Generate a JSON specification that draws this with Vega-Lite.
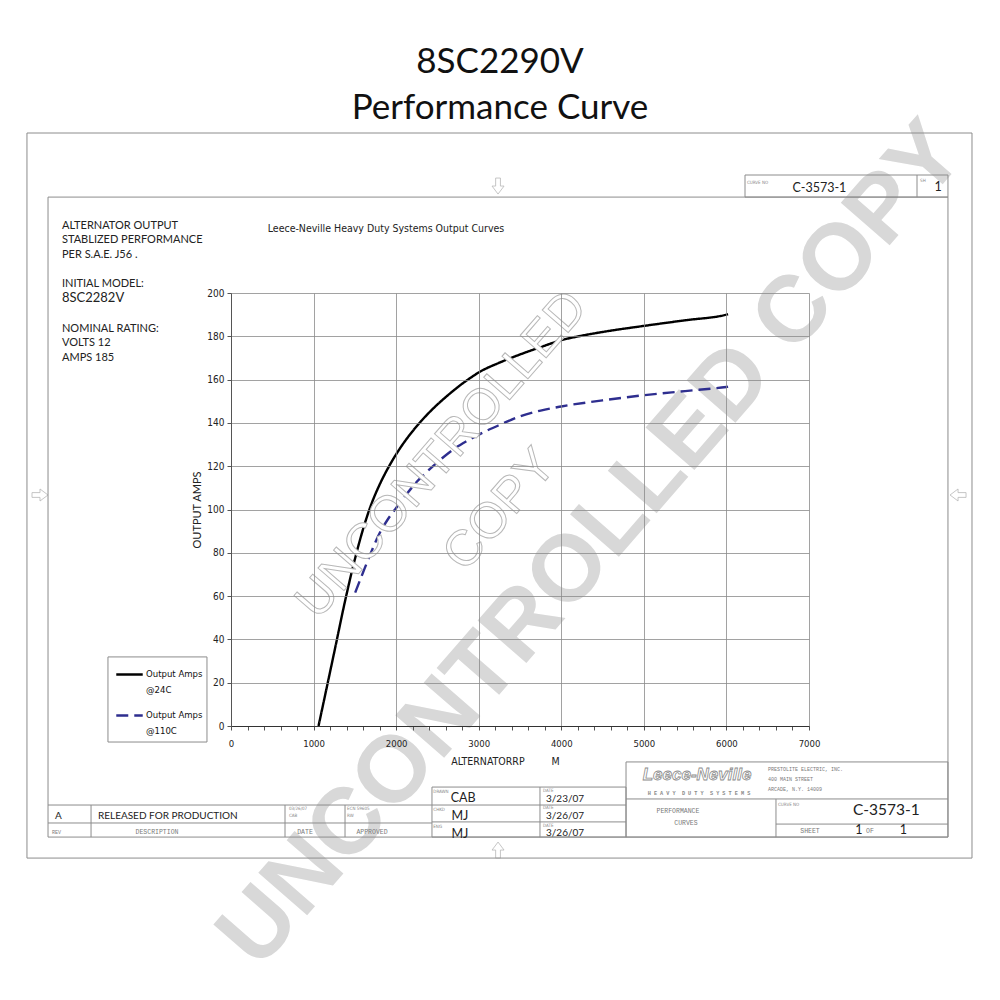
{
  "$schema": "https://vega.github.io/schema/vega-lite/v6.json",
  "width": 578,
  "height": 433,
  "autosize": {"type": "none"},
  "padding": {"left": 231, "top": 293, "right": 191, "bottom": 274},
  "background": "white",
  "config": {"view": {"stroke": null}},
  "datasets": {
    "perf": [
      {"rpm": 1060, "amps": 0, "series": "Output Amps @24C"},
      {"rpm": 1250, "amps": 34, "series": "Output Amps @24C"},
      {"rpm": 1383, "amps": 58, "series": "Output Amps @24C"},
      {"rpm": 1500, "amps": 77, "series": "Output Amps @24C"},
      {"rpm": 1600, "amps": 91, "series": "Output Amps @24C"},
      {"rpm": 1700, "amps": 102.5, "series": "Output Amps @24C"},
      {"rpm": 1800, "amps": 111.5, "series": "Output Amps @24C"},
      {"rpm": 1900, "amps": 119, "series": "Output Amps @24C"},
      {"rpm": 2000, "amps": 125.5, "series": "Output Amps @24C"},
      {"rpm": 2100, "amps": 131.2, "series": "Output Amps @24C"},
      {"rpm": 2200, "amps": 136.2, "series": "Output Amps @24C"},
      {"rpm": 2300, "amps": 140.7, "series": "Output Amps @24C"},
      {"rpm": 2400, "amps": 144.8, "series": "Output Amps @24C"},
      {"rpm": 2500, "amps": 148.5, "series": "Output Amps @24C"},
      {"rpm": 2600, "amps": 151.9, "series": "Output Amps @24C"},
      {"rpm": 2700, "amps": 155.1, "series": "Output Amps @24C"},
      {"rpm": 2800, "amps": 158.1, "series": "Output Amps @24C"},
      {"rpm": 2900, "amps": 160.8, "series": "Output Amps @24C"},
      {"rpm": 3000, "amps": 163.3, "series": "Output Amps @24C"},
      {"rpm": 3250, "amps": 167.8, "series": "Output Amps @24C"},
      {"rpm": 3500, "amps": 171.6, "series": "Output Amps @24C"},
      {"rpm": 3750, "amps": 175, "series": "Output Amps @24C"},
      {"rpm": 4000, "amps": 178.2, "series": "Output Amps @24C"},
      {"rpm": 4250, "amps": 180.3, "series": "Output Amps @24C"},
      {"rpm": 4500, "amps": 182, "series": "Output Amps @24C"},
      {"rpm": 5000, "amps": 184.8, "series": "Output Amps @24C"},
      {"rpm": 5500, "amps": 187.4, "series": "Output Amps @24C"},
      {"rpm": 6000, "amps": 190, "series": "Output Amps @24C"},
      {"rpm": 6020, "amps": 190.2, "series": "Output Amps @24C"},
      {"rpm": 1504, "amps": 61.6, "series": "Output Amps @110C"},
      {"rpm": 1600, "amps": 71, "series": "Output Amps @110C"},
      {"rpm": 1700, "amps": 80.5, "series": "Output Amps @110C"},
      {"rpm": 1786, "amps": 88, "series": "Output Amps @110C"},
      {"rpm": 1900, "amps": 95.5, "series": "Output Amps @110C"},
      {"rpm": 2000, "amps": 100.7, "series": "Output Amps @110C"},
      {"rpm": 2125, "amps": 107, "series": "Output Amps @110C"},
      {"rpm": 2250, "amps": 112.8, "series": "Output Amps @110C"},
      {"rpm": 2400, "amps": 118.4, "series": "Output Amps @110C"},
      {"rpm": 2550, "amps": 123.5, "series": "Output Amps @110C"},
      {"rpm": 2713, "amps": 128.3, "series": "Output Amps @110C"},
      {"rpm": 2850, "amps": 131.5, "series": "Output Amps @110C"},
      {"rpm": 2975, "amps": 134.1, "series": "Output Amps @110C"},
      {"rpm": 3250, "amps": 139, "series": "Output Amps @110C"},
      {"rpm": 3500, "amps": 143, "series": "Output Amps @110C"},
      {"rpm": 3750, "amps": 145.7, "series": "Output Amps @110C"},
      {"rpm": 4000, "amps": 147.6, "series": "Output Amps @110C"},
      {"rpm": 4500, "amps": 150.4, "series": "Output Amps @110C"},
      {"rpm": 5000, "amps": 152.8, "series": "Output Amps @110C"},
      {"rpm": 5500, "amps": 154.7, "series": "Output Amps @110C"},
      {"rpm": 6000, "amps": 156.6, "series": "Output Amps @110C"},
      {"rpm": 6020, "amps": 156.7, "series": "Output Amps @110C"}
    ],
    "boxes": [
      {"rpm": -2471, "rpm2": 8974, "amps": 273.9, "amps2": -61.0},
      {"rpm": -2216, "rpm2": 8683, "amps": 244.3, "amps2": -51.3},
      {"rpm": 6225, "rpm2": 8683, "amps": 254.5, "amps2": 244.3},
      {"rpm": 4784, "rpm2": 8683, "amps": -16.6, "amps2": -51.3},
      {"rpm": 2434, "rpm2": 4784, "amps": -28.2, "amps2": -51.3},
      {"rpm": -1490, "rpm2": -291, "amps": 31.9, "amps2": -7.4}
    ],
    "lines": [
      {"rpm": 8308, "amps": 254.5, "rpm2": 8308, "amps2": 244.3},
      {"rpm": 4784, "amps": -33.7, "rpm2": 8683, "amps2": -33.7},
      {"rpm": 6600, "amps": -33.7, "rpm2": 6600, "amps2": -51.3},
      {"rpm": 6600, "amps": -45.3, "rpm2": 8683, "amps2": -45.3},
      {"rpm": 2434, "amps": -36.5, "rpm2": 4784, "amps2": -36.5},
      {"rpm": 2434, "amps": -44.3, "rpm2": 4784, "amps2": -44.3},
      {"rpm": 3742, "amps": -28.2, "rpm2": 3742, "amps2": -51.3},
      {"rpm": -2216, "amps": -36.5, "rpm2": 2434, "amps2": -36.5},
      {"rpm": -2216, "amps": -44.8, "rpm2": 2434, "amps2": -44.8},
      {"rpm": -1695, "amps": -36.5, "rpm2": -1695, "amps2": -51.3},
      {"rpm": 654, "amps": -36.5, "rpm2": 654, "amps2": -51.3},
      {"rpm": 1381, "amps": -36.5, "rpm2": 1381, "amps2": -51.3}
    ],
    "watermark": [
      {"rpm": 4372, "amps": 83.6, "text": "UNCONTROLLED COPY", "kind": "solid"},
      {"rpm": 2555, "amps": 125.2, "text": "UNCONTROLLED", "kind": "outline"},
      {"rpm": 3258, "amps": 99.8, "text": "COPY", "kind": "outline"}
    ],
    "arrows": [
      {"rpm": 3234, "amps": 249.4, "dir": "down"},
      {"rpm": 3234, "amps": -57.3, "dir": "up"},
      {"rpm": -2313, "amps": 106.7, "dir": "right"},
      {"rpm": 8805, "amps": 106.7, "dir": "left"}
    ],
    "texts": [
      {"rpm": 3258, "amps": 306.7, "text": "8SC2290V", "g": "head"},
      {"rpm": 3258, "amps": 285.6, "text": "Performance Curve", "g": "head"},
      {"rpm": -2047, "amps": 230.9, "text": "ALTERNATOR OUTPUT", "g": "note"},
      {"rpm": -2047, "amps": 224.5, "text": "STABLIZED PERFORMANCE", "g": "note"},
      {"rpm": -2047, "amps": 217.6, "text": "PER S.A.E. J56 .", "g": "note"},
      {"rpm": -2047, "amps": 204.2, "text": "INITIAL MODEL:", "g": "note"},
      {"rpm": -2047, "amps": 197.7, "text": "8SC2282V", "g": "model"},
      {"rpm": -2047, "amps": 183.4, "text": "NOMINAL RATING:", "g": "note"},
      {"rpm": -2047, "amps": 176.9, "text": "VOLTS 12", "g": "note"},
      {"rpm": -2047, "amps": 170.0, "text": "AMPS 185", "g": "note"},
      {"rpm": 1877, "amps": 229.6, "text": "Leece-Neville Heavy Duty Systems Output Curves", "g": "sub"},
      {"rpm": 6249, "amps": 251.0, "text": "CURVE NO", "g": "tiny"},
      {"rpm": 8345, "amps": 251.7, "text": "SH", "g": "tiny"},
      {"rpm": 2450, "amps": -30.5, "text": "DRAWN", "g": "tiny"},
      {"rpm": 3779, "amps": -30.0, "text": "DATE", "g": "tiny"},
      {"rpm": 2450, "amps": -38.8, "text": "CHKD", "g": "tiny"},
      {"rpm": 3779, "amps": -38.0, "text": "DATE", "g": "tiny"},
      {"rpm": 2450, "amps": -46.7, "text": "ENG", "g": "tiny"},
      {"rpm": 3779, "amps": -46.0, "text": "DATE", "g": "tiny"},
      {"rpm": 702, "amps": -38.2, "text": "03/26/07", "g": "tiny"},
      {"rpm": 702, "amps": -41.6, "text": "CAB", "g": "tiny"},
      {"rpm": 1405, "amps": -38.2, "text": "ECN 59605", "g": "tiny"},
      {"rpm": 1405, "amps": -41.6, "text": "RW", "g": "tiny"},
      {"rpm": 6625, "amps": -36.3, "text": "CURVE NO", "g": "tiny"},
      {"rpm": -2168, "amps": -49.0, "text": "REV", "g": "monoL"},
      {"rpm": -896, "amps": -49.0, "text": "DESCRIPTION", "g": "mono"},
      {"rpm": 896, "amps": -49.0, "text": "DATE", "g": "mono"},
      {"rpm": 1708, "amps": -49.0, "text": "APPROVED", "g": "mono"},
      {"rpm": 5413, "amps": -39.3, "text": "PERFORMANCE", "g": "mono"},
      {"rpm": 5510, "amps": -44.6, "text": "CURVES", "g": "mono"},
      {"rpm": 7012, "amps": -48.5, "text": "SHEET", "g": "mono"},
      {"rpm": 7739, "amps": -48.5, "text": "OF", "g": "mono"},
      {"rpm": 6503, "amps": -19.9, "text": "PRESTOLITE ELECTRIC, INC.", "g": "monoL"},
      {"rpm": 6503, "amps": -24.5, "text": "400 MAIN STREET", "g": "monoL"},
      {"rpm": 6503, "amps": -29.1, "text": "ARCADE, N.Y. 14009", "g": "monoL"},
      {"rpm": 5668, "amps": -30.9, "text": "H E A V Y \u00a0D U T Y \u00a0S Y S T E M S", "g": "heavy"},
      {"rpm": -2132, "amps": -41.6, "text": "A", "g": "mid"},
      {"rpm": -1611, "amps": -41.6, "text": "RELEASED FOR PRODUCTION", "g": "mid"},
      {"rpm": 2660, "amps": -33.3, "text": "CAB", "g": "big"},
      {"rpm": 2670, "amps": -41.6, "text": "MJ", "g": "big"},
      {"rpm": 2670, "amps": -49.9, "text": "MJ", "g": "big"},
      {"rpm": 3815, "amps": -33.7, "text": "3/23/07", "g": "mid"},
      {"rpm": 3815, "amps": -41.6, "text": "3/26/07", "g": "mid"},
      {"rpm": 3815, "amps": -49.4, "text": "3/26/07", "g": "mid"},
      {"rpm": 6800, "amps": 248.5, "text": "C-3573-1", "g": "big"},
      {"rpm": 8520, "amps": 249.0, "text": "1", "g": "big"},
      {"rpm": 7533, "amps": -38.8, "text": "C-3573-1", "g": "cnum"},
      {"rpm": 7560, "amps": -48.0, "text": "1", "g": "big"},
      {"rpm": 8100, "amps": -48.0, "text": "1", "g": "big"},
      {"rpm": 5644, "amps": -22.6, "text": "Leece-Neville", "g": "logo"}
    ]
  },
  "encoding": {
    "x": {
      "field": "rpm",
      "type": "quantitative",
      "scale": {"domain": [0, 7000], "nice": false, "zero": false},
      "axis": {
        "title": "ALTERNATORRP\u00a0\u00a0\u00a0\u00a0\u00a0\u00a0\u00a0\u00a0\u00a0M",
        "values": [0,200,400,600,800,1000,1200,1400,1600,1800,2000,2200,2400,2600,2800,3000,3200,3400,3600,3800,4000,4200,4400,4600,4800,5000,5200,5400,5600,5800,6000,6200,6400,6600,6800,7000],
        "format": "d",
        "labelExpr": "datum.value % 1000 === 0 ? datum.label : ''",
        "labelOverlap": false,
        "labelFlush": false,
        "labelFont": "Liberation Sans Narrow, DejaVu Sans Condensed, sans-serif",
        "labelFontSize": 9.5,
        "labelColor": "#222222",
        "labelPadding": 8,
        "tickSize": 4,
        "tickColor": "#555555",
        "domainColor": "#333333",
        "grid": true,
        "gridColor": "#8a8a8a",
        "gridWidth": 0.8,
        "gridOpacity": {"condition": {"test": "datum.value % 1000 === 0", "value": 1}, "value": 0},
        "titleFont": "Liberation Sans Narrow, DejaVu Sans Condensed, sans-serif",
        "titleFontSize": 10.5,
        "titleFontWeight": "normal",
        "titleColor": "#222222",
        "titlePadding": 9,
        "titleX": 274,
        "zindex": 1
      }
    },
    "y": {
      "field": "amps",
      "type": "quantitative",
      "scale": {"domain": [0, 200], "nice": false, "zero": false},
      "axis": {
        "title": "OUTPUT AMPS",
        "values": [0,20,40,60,80,100,120,140,160,180,200],
        "labelFont": "Liberation Sans Narrow, DejaVu Sans Condensed, sans-serif",
        "labelFontSize": 10,
        "labelColor": "#222222",
        "labelPadding": 3,
        "tickSize": 4,
        "tickColor": "#555555",
        "domainColor": "#555555",
        "grid": true,
        "gridColor": "#8a8a8a",
        "gridWidth": 0.8,
        "titleFont": "Lato",
        "titleFontSize": 11,
        "titleFontWeight": "normal",
        "titleColor": "#222222",
        "titlePadding": 4,
        "zindex": 1
      }
    }
  },
  "layer": [
    {
      "data": {"name": "watermark"},
      "transform": [{"filter": "datum.kind === 'solid'"}],
      "mark": {"type": "text", "font": "Liberation Sans", "fontWeight": "bold", "fontSize": 94, "angle": -49, "align": "center", "baseline": "middle", "fill": "#d8d8d8"},
      "encoding": {"text": {"field": "text"}}
    },
    {
      "data": {"name": "boxes"},
      "mark": {"type": "rect", "filled": false, "stroke": "#8c8c8c", "strokeWidth": 1},
      "encoding": {"x2": {"field": "rpm2"}, "y2": {"field": "amps2"}}
    },
    {
      "data": {"name": "lines"},
      "mark": {"type": "rule", "stroke": "#8c8c8c", "strokeWidth": 1},
      "encoding": {"x2": {"field": "rpm2"}, "y2": {"field": "amps2"}}
    },
    {
      "data": {"name": "perf"},
      "mark": {"type": "line", "interpolate": "monotone", "strokeWidth": 2.4},
      "encoding": {
        "color": {
          "field": "series",
          "type": "nominal",
          "scale": {"domain": ["Output Amps @24C", "Output Amps @110C"], "range": ["#000000", "#2e2e8f"]},
          "legend": {
            "title": null,
            "orient": "none",
            "legendX": -116,
            "legendY": 367,
            "direction": "vertical",
            "padding": 0,
            "symbolType": "stroke",
            "symbolSize": 700,
            "symbolStrokeWidth": 2.4,
            "labelFont": "Liberation Sans Narrow, DejaVu Sans Condensed, sans-serif",
            "labelFontSize": 9.5,
            "labelColor": "#111111",
            "labelLimit": 0,
            "labelOffset": 2,
            "labelBaseline": "top",
            "labelExpr": "[slice(datum.label, 0, 11), slice(datum.label, 12)]",
            "rowPadding": 7,
            "encode": {"labels": {"update": {"dy": {"value": -6}, "lineHeight": {"value": 16}}}}
          }
        },
        "strokeDash": {
          "field": "series",
          "type": "nominal",
          "scale": {"domain": ["Output Amps @24C", "Output Amps @110C"], "range": [[1, 0], [12, 6]]},
          "legend": null
        }
      }
    },
    {
      "data": {"name": "watermark"},
      "transform": [{"filter": "datum.kind === 'outline'"}],
      "mark": {"type": "text", "font": "Liberation Sans", "fontSize": 50, "angle": -49, "align": "center", "baseline": "middle", "fill": "#ffffff", "stroke": "#b8b8b8", "strokeWidth": 1},
      "encoding": {"text": {"field": "text"}}
    },
    {
      "data": {"name": "texts"},
      "transform": [{"filter": "datum.g === 'head'"}],
      "mark": {"type": "text", "font": "Lato", "fontSize": 35, "align": "center", "baseline": "middle", "fill": "#111111"},
      "encoding": {"text": {"field": "text"}}
    },
    {
      "data": {"name": "texts"},
      "transform": [{"filter": "datum.g === 'note'"}],
      "mark": {"type": "text", "font": "Lato", "fontSize": 11, "align": "left", "baseline": "middle", "fill": "#222222"},
      "encoding": {"text": {"field": "text"}}
    },
    {
      "data": {"name": "texts"},
      "transform": [{"filter": "datum.g === 'model'"}],
      "mark": {"type": "text", "font": "Lato", "fontSize": 13, "align": "left", "baseline": "middle", "fill": "#222222"},
      "encoding": {"text": {"field": "text"}}
    },
    {
      "data": {"name": "texts"},
      "transform": [{"filter": "datum.g === 'sub'"}],
      "mark": {"type": "text", "font": "Liberation Sans Narrow, DejaVu Sans Condensed, sans-serif", "fontSize": 10.5, "align": "center", "baseline": "middle", "fill": "#222222"},
      "encoding": {"text": {"field": "text"}}
    },
    {
      "data": {"name": "texts"},
      "transform": [{"filter": "datum.g === 'tiny'"}],
      "mark": {"type": "text", "font": "Liberation Sans Narrow, DejaVu Sans Condensed, sans-serif", "fontSize": 4.5, "align": "left", "baseline": "middle", "fill": "#888888"},
      "encoding": {"text": {"field": "text"}}
    },
    {
      "data": {"name": "texts"},
      "transform": [{"filter": "datum.g === 'mono'"}],
      "mark": {"type": "text", "font": "Liberation Mono", "fontSize": 6.5, "align": "center", "baseline": "middle", "fill": "#7a7a7a"},
      "encoding": {"text": {"field": "text"}}
    },
    {
      "data": {"name": "texts"},
      "transform": [{"filter": "datum.g === 'monoL'"}],
      "mark": {"type": "text", "font": "Liberation Mono", "fontSize": 5, "align": "left", "baseline": "middle", "fill": "#7a7a7a"},
      "encoding": {"text": {"field": "text"}}
    },
    {
      "data": {"name": "texts"},
      "transform": [{"filter": "datum.g === 'heavy'"}],
      "mark": {"type": "text", "font": "Liberation Mono", "fontSize": 5.2, "fontWeight": "bold", "align": "center", "baseline": "middle", "fill": "#8a8a8a"},
      "encoding": {"text": {"field": "text"}}
    },
    {
      "data": {"name": "texts"},
      "transform": [{"filter": "datum.g === 'mid'"}],
      "mark": {"type": "text", "font": "Lato", "fontSize": 10, "align": "left", "baseline": "middle", "fill": "#222222"},
      "encoding": {"text": {"field": "text"}}
    },
    {
      "data": {"name": "texts"},
      "transform": [{"filter": "datum.g === 'big'"}],
      "mark": {"type": "text", "font": "Lato", "fontSize": 12.5, "align": "left", "baseline": "middle", "fill": "#222222"},
      "encoding": {"text": {"field": "text"}}
    },
    {
      "data": {"name": "texts"},
      "transform": [{"filter": "datum.g === 'cnum'"}],
      "mark": {"type": "text", "font": "Lato", "fontSize": 15.5, "align": "left", "baseline": "middle", "fill": "#222222"},
      "encoding": {"text": {"field": "text"}}
    },
    {
      "data": {"name": "texts"},
      "transform": [{"filter": "datum.g === 'logo'"}],
      "mark": {"type": "text", "font": "Liberation Sans", "fontSize": 17, "fontStyle": "italic", "fontWeight": "bold", "align": "center", "baseline": "middle", "fill": "#ffffff", "stroke": "#8c8c8c", "strokeWidth": 0.8},
      "encoding": {"text": {"field": "text"}}
    },
    {
      "data": {"name": "arrows"},
      "transform": [{"filter": "datum.dir === 'down'"}],
      "mark": {"type": "point", "shape": "M-0.3,-1L0.3,-1L0.3,0L0.75,0L0,1L-0.75,0L-0.3,0Z", "size": 256, "angle": 0, "filled": false, "stroke": "#999999", "strokeWidth": 0.8}
    },
    {
      "data": {"name": "arrows"},
      "transform": [{"filter": "datum.dir === 'up'"}],
      "mark": {"type": "point", "shape": "M-0.3,-1L0.3,-1L0.3,0L0.75,0L0,1L-0.75,0L-0.3,0Z", "size": 256, "angle": 180, "filled": false, "stroke": "#999999", "strokeWidth": 0.8}
    },
    {
      "data": {"name": "arrows"},
      "transform": [{"filter": "datum.dir === 'right'"}],
      "mark": {"type": "point", "shape": "M-0.3,-1L0.3,-1L0.3,0L0.75,0L0,1L-0.75,0L-0.3,0Z", "size": 256, "angle": 270, "filled": false, "stroke": "#999999", "strokeWidth": 0.8}
    },
    {
      "data": {"name": "arrows"},
      "transform": [{"filter": "datum.dir === 'left'"}],
      "mark": {"type": "point", "shape": "M-0.3,-1L0.3,-1L0.3,0L0.75,0L0,1L-0.75,0L-0.3,0Z", "size": 256, "angle": 90, "filled": false, "stroke": "#999999", "strokeWidth": 0.8}
    }
  ]
}
